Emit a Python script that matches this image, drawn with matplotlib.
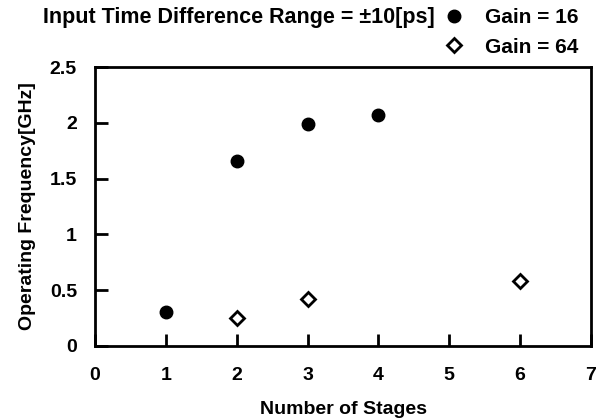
import matplotlib.pyplot as plt

plt.rcParams["font.family"] = ["Liberation Sans", "DejaVu Sans"]
plt.rcParams["font.weight"] = "bold"

STAGES_16 = [1, 2, 3, 4]
FREQ_16 = [0.305, 1.66, 1.99, 2.07]
STAGES_64 = [2, 3, 6]
FREQ_64 = [0.25, 0.42, 0.585]


def main():
    fig = plt.figure(figsize=(6.05, 4.18), dpi=100)
    ax = fig.add_axes([95 / 605, 1 - 346 / 418, 496 / 605, 279 / 418])

    ax.plot(STAGES_16, FREQ_16, "o", color="black", markersize=9, label="Gain = 16")
    ax.plot(STAGES_64, FREQ_64, "D", markerfacecolor="white", markeredgecolor="black",
            markeredgewidth=2, markersize=7, label="Gain = 64")

    ax.set_xlim(0, 7)
    ax.set_ylim(0, 2.5)
    ax.set_xticks(range(0, 8))
    ax.set_yticks([0, 0.5, 1, 1.5, 2, 2.5])
    ax.set_yticklabels(["0", "0.5", "1", "1.5", "2", "2.5"])
    ax.tick_params(direction="in", length=9, width=2, labelsize=14)
    ax.tick_params(axis="y", pad=13)
    ax.tick_params(axis="x", pad=15)
    for spine in ax.spines.values():
        spine.set_linewidth(2)

    ax.set_xlabel("Number of Stages", fontsize=14, fontweight="bold", labelpad=12)
    ax.set_ylabel("Operating Frequency[GHz]", fontsize=14, fontweight="bold", labelpad=10)

    fig.text(43 / 605, 1 - 18 / 418, "Input Time Difference Range = \u00b110[ps]",
             fontsize=15.5, fontweight="bold", va="center", ha="left")

    fig.legend(loc="upper left", bbox_to_anchor=(433 / 605, 1.0), frameon=False,
               fontsize=15, handletextpad=0.9, labelspacing=0.5, borderaxespad=0.0,
               handlelength=1.2)

    fig.savefig("out.png", dpi=100)


if __name__ == "__main__":
    main()
